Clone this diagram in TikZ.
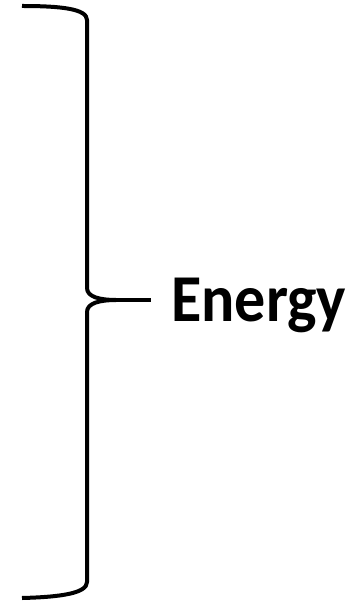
\documentclass[tikz,border=0pt]{standalone}
\usepackage{fontspec}
\usepackage{graphicx}
\setmainfont{Carlito}
\tikzset{bracestyle/.style={line width=4pt,line cap=butt,line join=round,draw=black}}
\begin{document}
\begin{tikzpicture}[x=1pt,y=-1pt]
\useasboundingbox (0,0) rectangle (352,601);
\draw[bracestyle] (22,6) .. controls (62,6) and (87,9) .. (87,20) -- (87,288)
  .. controls (87,297) and (100,300) .. (116,300);
\draw[bracestyle] (116,300) .. controls (100,300) and (87,303) .. (87,312) -- (87,582)
  .. controls (87,593) and (62,597) .. (22,598);
\draw[bracestyle] (114,300) -- (151,300);
\node[anchor=base west,inner sep=0pt,font=\fontsize{67}{67}\selectfont\bfseries] (energy) at (171,321) {\resizebox{175pt}{\height}{Energy}};
\end{tikzpicture}
\end{document}
